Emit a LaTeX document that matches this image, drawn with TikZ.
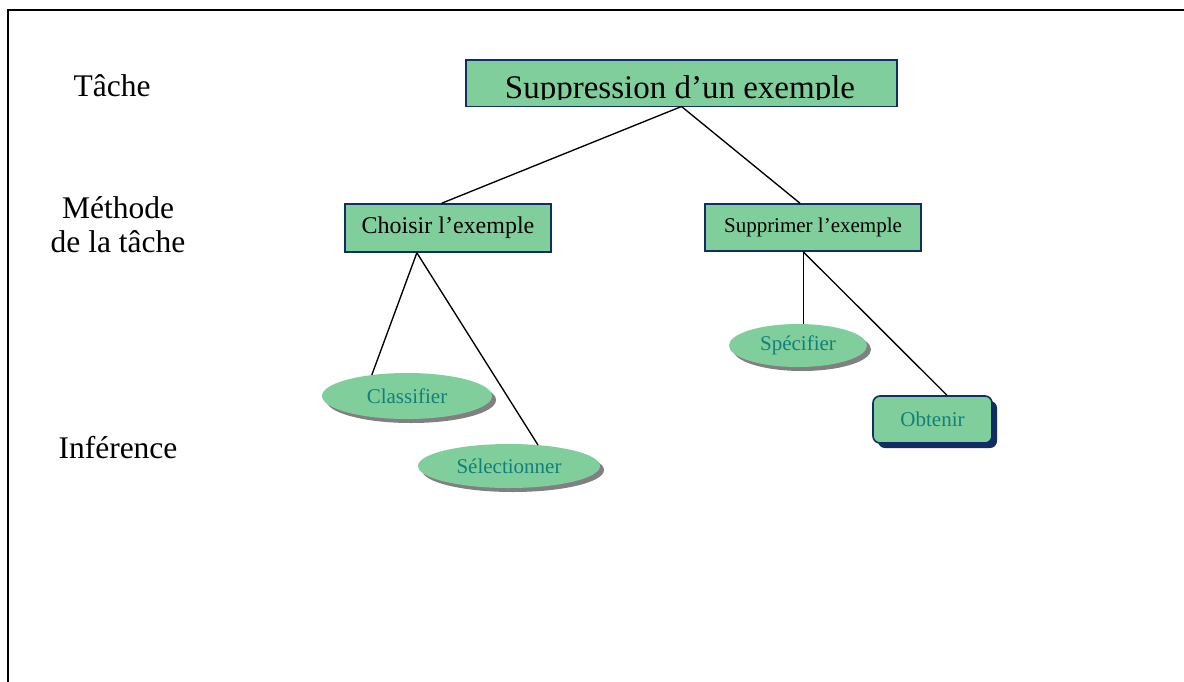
\documentclass[tikz,border=0pt]{standalone}
\usepackage{fontspec}
\setmainfont{Liberation Serif}
\usetikzlibrary{calc,shapes.geometric,shadows}
\definecolor{leaf}{RGB}{128,206,155}
\definecolor{navy}{RGB}{16,45,100}
\definecolor{tealtext}{RGB}{18,128,122}
\definecolor{shade}{RGB}{128,128,128}
\newcommand{\fs}[1]{\fontsize{#1}{#1}\selectfont}

\begin{document}
\begin{tikzpicture}[x=1pt,y=-1pt,
  level/.style={font=\fs{31.5}, anchor=base},
  methodbox/.style={rectangle, draw=navy, line width=1.6pt, fill=leaf, inner sep=0pt},
  leafshadow/.style={drop shadow={shadow xshift=4pt, shadow yshift=-4pt, fill=shade, opacity=1}},
  infer/.style={ellipse, fill=leaf, inner sep=0pt, text=tealtext, font=\fs{21}, leafshadow},
  stepnode/.style={rectangle, rounded corners=7pt, draw=navy, line width=1.6pt, fill=leaf, inner sep=0pt,
    text=tealtext, font=\fs{21},
    drop shadow={shadow xshift=5pt, shadow yshift=-5pt, fill=navy, opacity=1}},
  link/.style={line width=1.35pt, black}
]
\useasboundingbox (0,0) rectangle (1184,681);
\fill[white] (0,0) rectangle (1184,681);

% outer frame (open to the right and bottom)
\draw[line width=2pt] (8,700) -- (8,10) -- (1200,10);

% level labels
\node[level] (lt) at (112,96) {Tâche};
\node[level] (lm1) at (118,218.5) {Méthode};
\node[level] (lm2) at (118,252) {de la tâche};
\node[level] (li) at (118,458) {Inférence};

% task box, its title cut off just below the baseline
\node[rectangle, fill=leaf, inner sep=0pt, minimum width=431pt, minimum height=46pt] (top) at (681.5,83.3) {};
\begin{scope}
  \clip (top.north west) rectangle ($(top.east |- 0,99.8)$);
  \node[font=\fs{33}, anchor=base] (toptext) at (680,98.4) {Suppression d’un exemple};
\end{scope}
\draw[navy, line width=1.6pt] (top.south west) rectangle (top.north east);

% methods
\node[methodbox, minimum width=206pt, minimum height=48pt, font=\fs{24}] (ch) at (448,228) {Choisir l’exemple};
\node[methodbox, minimum width=216pt, minimum height=47pt, font=\fs{21}] (su) at (813,227.5) {Supprimer l’exemple};

% inferences
\node[infer, minimum width=170pt, minimum height=46pt] (cl) at (407,396) {Classifier};
\node[infer, minimum width=182pt, minimum height=44pt] (se) at (509,466) {Sélectionner};
\node[infer, minimum width=138pt, minimum height=43pt] (sp) at (798,345.5) {Spécifier};
\node[stepnode, minimum width=119pt, minimum height=47pt] (ob) at (932.5,419.5) {Obtenir};

% connectors
\coordinate (chn) at ($(ch.north west)!0.47!(ch.north east)$);
\coordinate (sun) at ($(su.north west)!0.44!(su.north east)$);
\coordinate (chs) at ($(ch.south west)!0.35!(ch.south east)$);
\coordinate (sus) at ($(su.south west)!0.455!(su.south east)$);
\draw[link] (top.south) -- (chn);
\draw[link] (top.south) -- (sun);
\draw[link] (chs) -- (cl.149);
\draw[link] (chs) -- (se.36);
\draw[link] (sus) -- (sus |- sp.north);
\draw[link] (sus) -- ($(ob.north west)!0.62!(ob.north east)$);
\end{tikzpicture}
\end{document}
